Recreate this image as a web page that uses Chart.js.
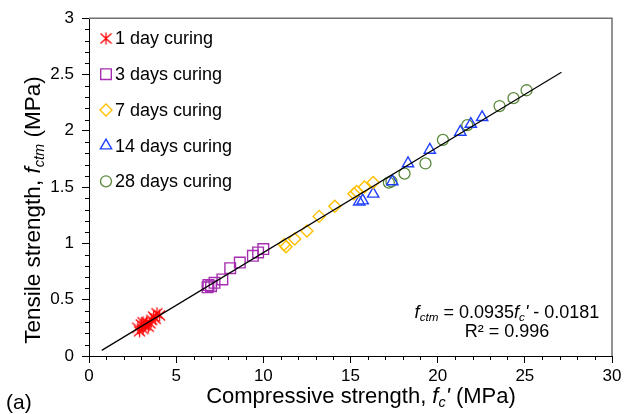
<!DOCTYPE html>
<html>
<head>
<meta charset="utf-8">
<script src="https://cdn.jsdelivr.net/npm/chart.js@4/dist/chart.umd.min.js"></script>
<style>
  html, body { margin:0; padding:0; background:#fff; }
  #wrap { position:relative; width:632px; height:414px; overflow:hidden; font-family:"Liberation Sans", Arial, sans-serif; color:#000; }
  canvas { position:absolute; left:0; top:0; }
  .lbl { position:absolute; white-space:nowrap; line-height:1; }
  .sub { font-size:0.65em; position:relative; top:0.28em; }
</style>
</head>
<body>
<div id="wrap">
  <canvas id="c" width="632" height="414"></canvas>
  <div class="lbl" id="xt" style="font-size:22px;">Compressive strength, <i>f</i><i class="sub">c</i><i>'</i> (MPa)</div>
  <div class="lbl" id="yt" style="font-size:22.5px;">Tensile strength, <i>f</i><i class="sub">ctm</i> (MPa)</div>
  <div class="lbl" id="eq1" style="font-size:18px;"><i>f</i><i class="sub">ctm</i> = 0.0935<i>f</i><i class="sub">c</i><i>'</i> - 0.0181</div>
  <div class="lbl" id="eq2" style="font-size:18px;">R² = 0.996</div>
  <div class="lbl" id="pa" style="font-size:21px;">(a)</div>
</div>
<script>
// ---- data ----
const seriesLabels = ["1 day curing", "3 days curing", "7 days curing", "14 days curing", "28 days curing"];

const day1X = [2.8, 2.9, 3.0, 3.1, 3.1, 3.2, 3.3, 3.4, 3.5, 3.6, 3.7, 3.8, 3.9, 4.05];
const day1Y = [0.25, 0.22, 0.28, 0.24, 0.30, 0.27, 0.30, 0.26, 0.29, 0.32, 0.35, 0.33, 0.38, 0.36];

const day3X = [6.8, 6.85, 7.0, 7.2, 7.65, 8.1, 8.65, 9.4, 9.7, 10.0];
const day3Y = [0.61, 0.63, 0.62, 0.65, 0.68, 0.78, 0.83, 0.89, 0.92, 0.95];

const day7X = [11.2, 11.3, 11.8, 12.5, 13.2, 14.1, 15.2, 15.35, 15.8, 16.3];
const day7Y = [0.99, 0.97, 1.04, 1.11, 1.24, 1.33, 1.44, 1.46, 1.50, 1.54];

const day14X = [15.5, 15.7, 16.3, 17.4, 18.3, 19.55, 21.3, 21.9, 22.55];
const day14Y = [1.37, 1.38, 1.44, 1.55, 1.71, 1.83, 1.99, 2.06, 2.12];

const day28X = [17.2, 17.35, 18.1, 19.3, 20.3, 21.7, 23.55, 24.35, 25.1];
const day28Y = [1.54, 1.55, 1.62, 1.71, 1.92, 2.05, 2.22, 2.29, 2.36];

const trendX = [0.73, 27.1];
const trendY = [0.05, 2.52];

const xTicks = [0, 5, 10, 15, 20, 25, 30];
const yTicks = [0, 0.5, 1, 1.5, 2, 2.5, 3];

// ---- helpers ----
function pts(xs, ys) { return xs.map((x, i) => ({ x: x, y: ys[i] })); }

// star (asterisk) marker
const star = document.createElement('canvas');
star.width = 13; star.height = 13;
(function(){
  const g = star.getContext('2d');
  g.strokeStyle = '#ff0000'; g.lineWidth = 1.3;
  g.beginPath();
  g.moveTo(6.5, 0.5); g.lineTo(6.5, 12.5);
  g.moveTo(1, 1.5); g.lineTo(12, 11.5);
  g.moveTo(12, 1.5); g.lineTo(1, 11.5);
  g.stroke();
})();

const FONT = "'Liberation Sans', Arial, sans-serif";

const frameAndMinor = {
  id: 'frameAndMinor',
  afterDraw(chart) {
    const ctx = chart.ctx, a = chart.chartArea;
    const xs = chart.scales.x, ys = chart.scales.y;
    ctx.save();
    ctx.strokeStyle = '#707070'; ctx.lineWidth = 1.5;
    ctx.beginPath();
    ctx.moveTo(a.left, a.top); ctx.lineTo(a.right, a.top); ctx.lineTo(a.right, a.bottom);
    ctx.stroke();
    ctx.strokeStyle = '#000'; ctx.lineWidth = 1;
    ctx.beginPath();
    for (let v = 1; v < 30; v++) {
      if (v % 5 === 0) continue;
      const px = Math.round(xs.getPixelForValue(v)) + 0.5;
      ctx.moveTo(px, a.bottom); ctx.lineTo(px, a.bottom + 4);
    }
    for (let k = 1; k < 30; k++) {
      if (k % 5 === 0) continue;
      const py = Math.round(ys.getPixelForValue(k / 10)) + 0.5;
      ctx.moveTo(a.left, py); ctx.lineTo(a.left - 4, py);
    }
    ctx.stroke();
    ctx.restore();
  }
};

const legendPlugin = {
  id: 'insideLegend',
  afterDraw(chart) {
    const ctx = chart.ctx;
    const items = chart.data.datasets.filter(d => !d.isTrend);
    items.forEach((d, i) => {
      const y = 38.5 + i * 35.7;
      const x = 106;
      ctx.save();
      ctx.strokeStyle = d.borderColor;
      ctx.fillStyle = 'rgba(0,0,0,0)';
      ctx.lineWidth = d.borderWidth;
      Chart.helpers.drawPoint(ctx, { pointStyle: d.pointStyle, radius: d.pointRadius, rotation: 0, borderWidth: d.borderWidth }, x, y);
      ctx.restore();
      ctx.save();
      ctx.fillStyle = '#000';
      ctx.font = "18px " + FONT;
      ctx.textBaseline = 'middle';
      ctx.fillText(d.label, 115, y + 1);
      ctx.restore();
    });
  }
};

const datasets = [
  { isTrend: true, label: 'Linear fit', type: 'line', data: pts(trendX, trendY), showLine: true,
    borderColor: '#000', borderWidth: 1.2, pointRadius: 0, fill: false },
  { label: seriesLabels[0], data: pts(day1X, day1Y), pointStyle: star, pointRadius: 6,
    borderColor: '#ff0000', backgroundColor: 'rgba(0,0,0,0)', borderWidth: 1.3 },
  { label: seriesLabels[1], data: pts(day3X, day3Y), pointStyle: 'rect', pointRadius: 7.5,
    borderColor: '#a52fb0', backgroundColor: 'rgba(0,0,0,0)', borderWidth: 1.4 },
  { label: seriesLabels[2], data: pts(day7X, day7Y), pointStyle: 'rectRot', pointRadius: 6,
    borderColor: '#ffc000', backgroundColor: 'rgba(0,0,0,0)', borderWidth: 1.4 },
  { label: seriesLabels[3], data: pts(day14X, day14Y), pointStyle: 'triangle', pointRadius: 6.5,
    borderColor: '#1f40ff', backgroundColor: 'rgba(0,0,0,0)', borderWidth: 1.4 },
  { label: seriesLabels[4], data: pts(day28X, day28Y), pointStyle: 'circle', pointRadius: 5.5,
    borderColor: '#5b8a3c', backgroundColor: 'rgba(0,0,0,0)', borderWidth: 1.3 }
];

const chart = new Chart(document.getElementById('c'), {
  type: 'scatter',
  data: { datasets: datasets },
  options: {
    responsive: false,
    animation: false,
    devicePixelRatio: 1,
    layout: { padding: { left: 0, right: 20, top: 15, bottom: 0 } },
    plugins: { legend: { display: false }, tooltip: { enabled: false } },
    elements: { point: { hoverRadius: 6 } },
    scales: {
      x: {
        type: 'linear', min: 0, max: 30,
        afterFit: s => { s.height = 58; },
        afterBuildTicks: s => { s.ticks = xTicks.map(v => ({ value: v })); },
        ticks: { font: { family: FONT, size: 17 }, color: '#000', padding: 3, maxRotation: 0 },
        grid: { display: true, drawOnChartArea: false, drawTicks: true, tickLength: 7, color: '#000' },
        border: { display: true, color: '#000', width: 1 }
      },
      y: {
        type: 'linear', min: 0, max: 3,
        afterFit: s => { s.width = 89; },
        afterBuildTicks: s => { s.ticks = yTicks.map(v => ({ value: v })); },
        ticks: { font: { family: FONT, size: 17 }, color: '#000', padding: 8,
                 callback: v => String(v) },
        grid: { display: true, drawOnChartArea: false, drawTicks: true, tickLength: 7, color: '#000' },
        border: { display: true, color: '#000', width: 1 }
      }
    }
  },
  plugins: [frameAndMinor, legendPlugin]
});

// ---- position HTML text ----
function place(id, cx, baseline, fs) {
  const el = document.getElementById(id);
  el.style.left = cx + 'px';
  el.style.top = (baseline - 0.8465 * fs) + 'px';
  el.style.transform = 'translateX(-50%)';
}
place('xt', 361, 404, 22);
place('eq1', 507, 318, 18);
place('eq2', 507, 337, 18);
(function(){
  const el = document.getElementById('pa');
  el.style.left = '6px';
  el.style.top = (409 - 0.8465 * 21) + 'px';
})();
(function(){
  const el = document.getElementById('yt');
  el.style.left = '0px'; el.style.top = '0px';
  el.style.transformOrigin = '0 0';
  el.style.transform = 'translate(41px, 210px) rotate(-90deg) translate(-50%, -0.8465em)';
})();
</script>
</body>
</html>
